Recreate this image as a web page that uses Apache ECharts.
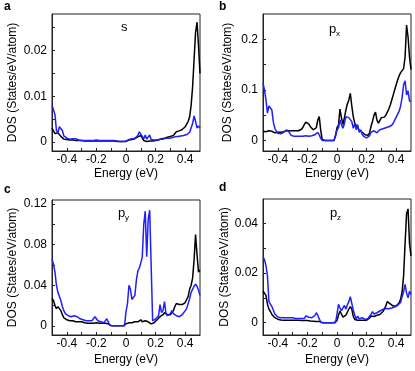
<!DOCTYPE html>
<html>
<head>
<meta charset="utf-8">
<script src="https://cdn.jsdelivr.net/npm/echarts@6/dist/echarts.min.js"></script>
<style>
  html, body { margin: 0; padding: 0; background: #fff; }
  #chart { width: 415px; height: 371px; }
</style>
</head>
<body>
<div id="chart"></div>
<script>
// energy grid (eV), shared by all four panels
const energy = [
  -0.50, -0.49, -0.48, -0.47, -0.46, -0.45, -0.44, -0.43, -0.42, -0.41,
  -0.40, -0.39, -0.38, -0.37, -0.36, -0.35, -0.34, -0.33, -0.32, -0.31,
  -0.30, -0.29, -0.28, -0.27, -0.26, -0.25, -0.24, -0.23, -0.22, -0.21,
  -0.20, -0.19, -0.18, -0.17, -0.16, -0.15, -0.14, -0.13, -0.12, -0.11,
  -0.10, -0.09, -0.08, -0.07, -0.06, -0.05, -0.04, -0.03, -0.02, -0.01,
  0.00, 0.01, 0.02, 0.03, 0.04, 0.05, 0.06, 0.07, 0.08, 0.09,
  0.10, 0.11, 0.12, 0.13, 0.14, 0.15, 0.16, 0.17, 0.18, 0.19,
  0.20, 0.21, 0.22, 0.23, 0.24, 0.25, 0.26, 0.27, 0.28, 0.29,
  0.30, 0.31, 0.32, 0.33, 0.34, 0.35, 0.36, 0.37, 0.38, 0.39,
  0.40, 0.41, 0.42, 0.43, 0.44, 0.45, 0.46, 0.47, 0.48, 0.49,
  0.50
]

// a: s orbital
const sBlack = [
  0.0030, 0.0030, 0.0018, 0.0015, 0.0020, 0.0016, 0.0012, 0.0008, 0.0006, 0.0005,
  0.0005, 0.0004, 0.0004, 0.0004, 0.0004, 0.0003, 0.0003, 0.0003, 0.0003, 0.0003,
  0.0003, 0.0002, 0.0002, 0.0002, 0.0002, 0.0002, 0.0002, 0.0002, 0.0002, 0.0002,
  0.0002, 0.0002, 0.0002, 0.0002, 0.0002, 0.0002, 0.0002, 0.0002, 0.0002, 0.0002,
  0.0002, 0.0002, 0.0002, 0.0002, 0.0001, 0.0001, 0.0001, 0.0001, 0.0001, 0.0001,
  0.0001, 0.0003, 0.0004, 0.0005, 0.0005, 0.0006, 0.0007, 0.0008, 0.0011, 0.0013,
  0.0014, 0.0008, 0.0003, 0.0001, 0.0001, 0.0002, 0.0002, 0.0002, 0.0002, 0.0002,
  0.0003, 0.0003, 0.0004, 0.0005, 0.0007, 0.0008, 0.0008, 0.0009, 0.0010, 0.0010,
  0.0012, 0.0015, 0.0014, 0.0017, 0.0022, 0.0024, 0.0024, 0.0025, 0.0027, 0.0030,
  0.0033, 0.0037, 0.0045, 0.0055, 0.0080, 0.0120, 0.0180, 0.0240, 0.0262, 0.0210,
  0.0150
]
const sBlue = [
  0.0080, 0.0083, 0.0060, 0.0025, 0.0020, 0.0033, 0.0036, 0.0025, 0.0013, 0.0009,
  0.0008, 0.0007, 0.0006, 0.0006, 0.0007, 0.0008, 0.0007, 0.0005, 0.0004, 0.0004,
  0.0003, 0.0003, 0.0003, 0.0003, 0.0003, 0.0003, 0.0003, 0.0003, 0.0003, 0.0004,
  0.0004, 0.0003, 0.0003, 0.0003, 0.0003, 0.0003, 0.0003, 0.0003, 0.0003, 0.0003,
  0.0003, 0.0003, 0.0003, 0.0003, 0.0002, 0.0002, 0.0001, 0.0001, 0.0001, 0.0001,
  0.0002, 0.0004, 0.0005, 0.0006, 0.0007, 0.0008, 0.0008, 0.0010, 0.0014, 0.0022,
  0.0024, 0.0012, 0.0007, 0.0015, 0.0006, 0.0010, 0.0015, 0.0005, 0.0004, 0.0004,
  0.0004, 0.0004, 0.0005, 0.0006, 0.0009, 0.0006, 0.0007, 0.0008, 0.0007, 0.0008,
  0.0010, 0.0009, 0.0010, 0.0011, 0.0012, 0.0012, 0.0013, 0.0013, 0.0014, 0.0014,
  0.0015, 0.0016, 0.0018, 0.0021, 0.0025, 0.0040, 0.0057, 0.0045, 0.0030, 0.0035,
  0.0030
]

// b: px orbital
const pxBlack = [
  0.018, 0.018, 0.017, 0.015, 0.019, 0.021, 0.018, 0.016, 0.015, 0.015,
  0.016, 0.016, 0.016, 0.017, 0.017, 0.018, 0.019, 0.019, 0.019, 0.019,
  0.019, 0.019, 0.019, 0.018, 0.019, 0.020, 0.022, 0.026, 0.032, 0.036,
  0.037, 0.032, 0.027, 0.024, 0.021, 0.019, 0.025, 0.040, 0.047, 0.020,
  0.002, 0, 0, 0, 0, 0, 0, 0, 0, 0.010,
  0.025, 0.030, 0.062, 0.045, 0.031, 0.045, 0.060, 0.072, 0.080, 0.093,
  0.068, 0.047, 0.034, 0.031, 0.025, 0.020, 0.021, 0.016, 0.013, 0.011,
  0.009, 0.010, 0.015, 0.028, 0.038, 0.050, 0.056, 0.040, 0.034, 0.031,
  0.045, 0.042, 0.046, 0.050, 0.056, 0.062, 0.070, 0.080, 0.090, 0.100,
  0.110, 0.120, 0.128, 0.134, 0.138, 0.142, 0.165, 0.228, 0.205, 0.165,
  0.140
]
const pxBlue = [
  0.113, 0.100, 0.080, 0.054, 0.068, 0.070, 0.060, 0.036, 0.024, 0.018,
  0.014, 0.013, 0.013, 0.013, 0.016, 0.019, 0.021, 0.019, 0.015, 0.010,
  0.008, 0.008, 0.008, 0.008, 0.008, 0.008, 0.008, 0.008, 0.008, 0.009,
  0.009, 0.008, 0.008, 0.009, 0.010, 0.011, 0.014, 0.016, 0.011, 0.004,
  0, 0, 0, 0, 0, 0, 0, 0, 0, 0.008,
  0.020, 0.025, 0.041, 0.031, 0.024, 0.033, 0.047, 0.044, 0.045, 0.046,
  0.037, 0.024, 0.034, 0.021, 0.031, 0.016, 0.021, 0.012, 0.008, 0.005,
  0.005, 0.006, 0.009, 0.016, 0.013, 0.019, 0.017, 0.015, 0.018, 0.021,
  0.022, 0.023, 0.024, 0.025, 0.026, 0.027, 0.028, 0.030, 0.034, 0.040,
  0.046, 0.052, 0.058, 0.068, 0.085, 0.110, 0.118, 0.090, 0.098, 0.078,
  0.077
]

// c: py orbital
const pyBlack = [
  0.027, 0.025, 0.020, 0.017, 0.019, 0.018, 0.015, 0.011, 0.008, 0.007,
  0.006, 0.005, 0.005, 0.005, 0.005, 0.005, 0.004, 0.004, 0.004, 0.004,
  0.004, 0.003, 0.003, 0.003, 0.0025, 0.0025, 0.0025, 0.0025, 0.0025, 0.003,
  0.003, 0.0025, 0.0025, 0.0025, 0.0025, 0.0025, 0.0025, 0.0025, 0.002, 0.001,
  0, 0, 0, 0, 0, 0, 0, 0, 0, 0,
  0.002, 0.003, 0.003, 0.004, 0.003, 0.004, 0.004, 0.005, 0.004, 0.005,
  0.006, 0.004, 0.004, 0.005, 0.004, 0.004, 0.003, 0.002, 0.003, 0.003,
  0.004, 0.006, 0.007, 0.009, 0.010, 0.011, 0.013, 0.012, 0.011, 0.011,
  0.011, 0.012, 0.015, 0.019, 0.022, 0.022, 0.021, 0.021, 0.021, 0.021,
  0.023, 0.024, 0.029, 0.036, 0.040, 0.047, 0.065, 0.090, 0.070, 0.053,
  0.055
]
const pyBlue = [
  0.066, 0.061, 0.053, 0.040, 0.033, 0.029, 0.025, 0.019, 0.015, 0.012,
  0.011, 0.010, 0.009, 0.009, 0.009, 0.010, 0.010, 0.009, 0.008, 0.007,
  0.007, 0.006, 0.005, 0.005, 0.005, 0.005, 0.005, 0.005, 0.006, 0.009,
  0.008, 0.005, 0.004, 0.004, 0.003, 0.003, 0.004, 0.007, 0.006, 0.001,
  0, 0, 0, 0, 0, 0, 0, 0, 0, 0,
  0.014, 0.022, 0.040, 0.036, 0.026, 0.026, 0.030, 0.045, 0.054, 0.057,
  0.062, 0.068, 0.100, 0.113, 0.068, 0.105, 0.114, 0.114, 0.005, 0.006,
  0.007, 0.008, 0.010, 0.021, 0.013, 0.015, 0.024, 0.012, 0.010, 0.011,
  0.012, 0.015, 0.012, 0.011, 0.010, 0.010, 0.009, 0.010, 0.011, 0.012,
  0.015, 0.017, 0.022, 0.027, 0.033, 0.036, 0.039, 0.041, 0.039, 0.035,
  0.030
]

// d: pz orbital
const pzBlack = [
  0.0128, 0.0125, 0.0110, 0.0075, 0.0055, 0.0045, 0.0033, 0.0026, 0.0020, 0.0017,
  0.0014, 0.0012, 0.0011, 0.0010, 0.0010, 0.0010, 0.0010, 0.0010, 0.0010, 0.0010,
  0.0010, 0.0010, 0.0010, 0.0010, 0.0010, 0.0009, 0.0009, 0.0009, 0.0009, 0.0009,
  0.0009, 0.0008, 0.0007, 0.0007, 0.0006, 0.0006, 0.0005, 0.0005, 0.0005, 0.0003,
  0, 0, 0, 0, 0, 0, 0, 0, 0, 0,
  0.0008, 0.0030, 0.0047, 0.0035, 0.0022, 0.0026, 0.0030, 0.0038, 0.0055, 0.0065,
  0.0055, 0.0025, 0.0013, 0.0010, 0.0010, 0.0010, 0.0010, 0.0010, 0.0010, 0.0010,
  0.0010, 0.0012, 0.0018, 0.0027, 0.0029, 0.0025, 0.0028, 0.0030, 0.0030, 0.0033,
  0.0040, 0.0045, 0.0055, 0.0068, 0.0085, 0.0080, 0.0076, 0.0070, 0.0067, 0.0066,
  0.0067, 0.0070, 0.0080, 0.0095, 0.0125, 0.0190, 0.0320, 0.0440, 0.0460, 0.0320,
  0.0270
]
const pzBlue = [
  0.0265, 0.0255, 0.0230, 0.0190, 0.0085, 0.0075, 0.0065, 0.0050, 0.0035, 0.0027,
  0.0023, 0.0020, 0.0020, 0.0020, 0.0020, 0.0020, 0.0020, 0.0020, 0.0020, 0.0020,
  0.0020, 0.0017, 0.0017, 0.0017, 0.0017, 0.0017, 0.0017, 0.0017, 0.0017, 0.0027,
  0.0025, 0.0022, 0.0020, 0.0020, 0.0022, 0.0028, 0.0040, 0.0030, 0.0015, 0.0002,
  0, 0, 0, 0, 0, 0, 0, 0, 0, 0,
  0.0034, 0.0074, 0.0060, 0.0048, 0.0060, 0.0070, 0.0054, 0.0072, 0.0085, 0.0105,
  0.0100, 0.0050, 0.0030, 0.0015, 0.0027, 0.0015, 0.0020, 0.0020, 0.0014, 0.0013,
  0.0015, 0.0017, 0.0025, 0.0034, 0.0044, 0.0035, 0.0040, 0.0040, 0.0044, 0.0047,
  0.0050, 0.0054, 0.0060, 0.0057, 0.0054, 0.0056, 0.0057, 0.0059, 0.0061, 0.0063,
  0.0066, 0.0070, 0.0075, 0.0082, 0.0105, 0.0125, 0.0155, 0.0120, 0.0100, 0.0127,
  0.0114
]

// tick labels
const xTicks = [-0.4, -0.3, -0.2, -0.1, 0, 0.1, 0.2, 0.3, 0.4]
const xLabels = [-0.4, -0.2, 0, 0.2, 0.4]
const sYTicks = [0, 0.005, 0.01, 0.015, 0.02, 0.025]
const sYLabels = [0, 0.01, 0.02]
const pxYTicks = [0, 0.05, 0.1, 0.15, 0.2]
const pxYLabels = [0, 0.1, 0.2]
const pyYTicks = [0, 0.02, 0.04, 0.06, 0.08, 0.1, 0.12]
const pyYLabels = [0, 0.04, 0.08, 0.12]
const pzYTicks = [0, 0.01, 0.02, 0.03, 0.04]
const pzYLabels = [0, 0.02, 0.04]

const FONT = 'Liberation Sans, Arial, Helvetica, sans-serif'
const BLACK = '#000000'
const BLUE = '#1f1fff'

const panels = [
  { letter: 'a', orb: 's', sub: '', black: sBlack, blue: sBlue, yMin: -0.002, yMax: 0.028,
    yTicks: sYTicks, yLabels: sYLabels,
    grid: { left: 52, top: 14, width: 148, height: 137 }, yGap: 33, xGap: 17,
    letterPos: [4, 1], orbPos: [121, 21] },
  { letter: 'b', orb: 'p', sub: 'x', black: pxBlack, blue: pxBlue, yMin: -0.021, yMax: 0.25,
    yTicks: pxYTicks, yLabels: pxYLabels,
    grid: { left: 263, top: 14, width: 148, height: 137 }, yGap: 29, xGap: 17,
    letterPos: [219, 1], orbPos: [329, 23] },
  { letter: 'c', orb: 'p', sub: 'y', black: pyBlack, blue: pyBlue, yMin: -0.009, yMax: 0.124,
    yTicks: pyYTicks, yLabels: pyYLabels,
    grid: { left: 52, top: 200, width: 148, height: 135 }, yGap: 33, xGap: 19,
    letterPos: [4, 184], orbPos: [118, 207] },
  { letter: 'd', orb: 'p', sub: 'z', black: pzBlack, blue: pzBlue, yMin: -0.005, yMax: 0.05,
    yTicks: pzYTicks, yLabels: pzYLabels,
    grid: { left: 263, top: 199, width: 148, height: 136 }, yGap: 29, xGap: 19,
    letterPos: [219, 182], orbPos: [330, 207] }
]

const toPoints = (ys) => energy.map((e, i) => [e, ys[i]])

const grids = []
const xAxes = []
const yAxes = []
const series = []
const graphics = []

panels.forEach((p, i) => {
  grids.push({ ...p.grid, show: true, borderColor: '#222', borderWidth: 1, backgroundColor: 'transparent' })
  xAxes.push({
    type: 'value',
    gridIndex: i,
    position: 'bottom',
    min: -0.5,
    max: 0.5,
    name: 'Energy (eV)',
    nameLocation: 'middle',
    nameGap: p.xGap,
    nameTextStyle: { color: '#000', fontSize: 12, fontFamily: FONT },
    axisLine: { show: true, onZero: false, lineStyle: { color: '#222', width: 1 } },
    axisTick: { show: true, inside: true, length: 3, customValues: xTicks, lineStyle: { color: '#222' } },
    axisLabel: { show: true, customValues: xLabels, margin: 3, color: '#000', fontSize: 12, fontFamily: FONT },
    splitLine: { show: false }
  })
  yAxes.push({
    type: 'value',
    gridIndex: i,
    position: 'left',
    min: p.yMin,
    max: p.yMax,
    name: 'DOS (States/eV/atom)',
    nameLocation: 'middle',
    nameGap: p.yGap,
    nameTextStyle: { color: '#000', fontSize: 12, fontFamily: FONT },
    axisLine: { show: true, onZero: false, lineStyle: { color: '#222', width: 1 } },
    axisTick: { show: true, inside: true, length: 3, customValues: p.yTicks, lineStyle: { color: '#222' } },
    axisLabel: { show: true, customValues: p.yLabels, margin: 5, color: '#000', fontSize: 12, fontFamily: FONT },
    splitLine: { show: false }
  })
  series.push({
    type: 'line', xAxisIndex: i, yAxisIndex: i, data: toPoints(p.black),
    showSymbol: false, symbol: 'none', lineStyle: { color: BLACK, width: 1.5 }, z: 2
  })
  series.push({
    type: 'line', xAxisIndex: i, yAxisIndex: i, data: toPoints(p.blue),
    showSymbol: false, symbol: 'none', lineStyle: { color: BLUE, width: 1.5 }, z: 3
  })

  graphics.push({
    type: 'text', left: p.letterPos[0], top: p.letterPos[1],
    style: { text: p.letter, fill: '#000', font: 'bold 12px ' + FONT }
  })
  graphics.push({
    type: 'text', left: p.orbPos[0], top: p.orbPos[1],
    style: { text: p.orb, fill: '#000', font: '13px ' + FONT }
  })
  if (p.sub) {
    graphics.push({
      type: 'text', left: p.orbPos[0] + 7, top: p.orbPos[1] + 7,
      style: { text: p.sub, fill: '#000', font: '8px ' + FONT }
    })
  }
})

const chart = echarts.init(document.getElementById('chart'), null, { renderer: 'canvas' })
chart.setOption({
  animation: false,
  backgroundColor: '#fff',
  grid: grids,
  xAxis: xAxes,
  yAxis: yAxes,
  series,
  graphic: graphics
})
</script>
</body>
</html>
